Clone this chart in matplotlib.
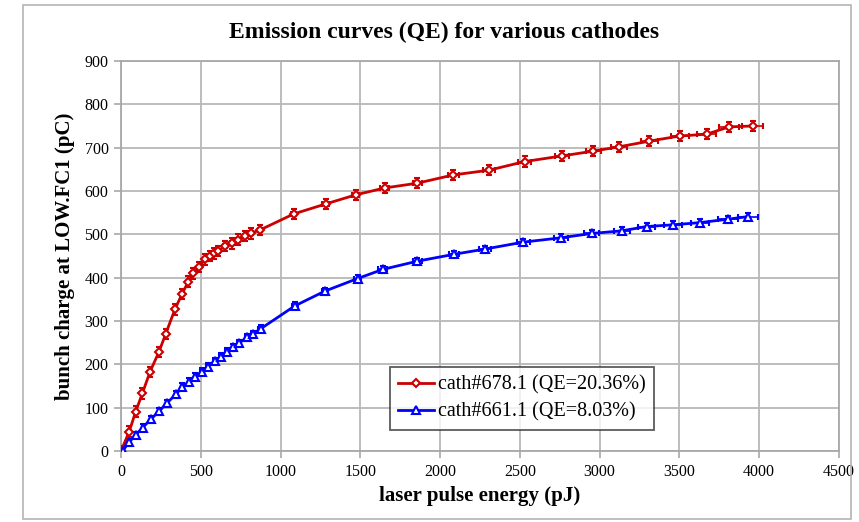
"""
Emission curves (QE) for two cathodes
"""
import numpy as np
import matplotlib.pyplot as plt
from matplotlib.patches import Rectangle
from matplotlib.lines import Line2D

plt.rcParams['font.family'] = ['Liberation Serif', 'DejaVu Serif']

# cath#678.1
v_x_678 = [0, 52, 92, 134, 182, 237, 280, 338, 382, 422, 453, 490, 526, 555, 585,
           610, 652, 694, 735, 777, 812, 871, 1082, 1282, 1470, 1652, 1857, 2082,
           2306, 2531, 2765, 2960, 3122, 3310, 3503, 3670, 3811, 3958]
v_y_678 = [0, 45, 91, 133, 183, 228, 270, 327, 362, 391, 410, 425, 442, 450, 456,
           462, 473, 479, 488, 496, 502, 510, 547, 570, 591, 607, 618, 637,
           648, 668, 681, 692, 702, 715, 727, 731, 748, 750]
# cath#661.1
v_x_661 = [10, 50, 92, 136, 186, 240, 286, 345, 384, 428, 464, 505, 543, 587, 625,
           662, 704, 741, 787, 825, 875, 1090, 1278, 1483, 1640, 1857, 2088, 2281,
           2521, 2757, 2949, 3137, 3294, 3461, 3628, 3805, 3931]
v_y_661 = [0, 20, 37, 54, 73, 92, 110, 131, 148, 160, 171, 183, 195, 207, 218,
           229, 239, 249, 262, 270, 282, 335, 369, 398, 419, 438, 454, 466,
           482, 492, 502, 508, 518, 522, 527, 535, 541]

labels = ['cath#678.1 (QE=20.36%)', 'cath#661.1 (QE=8.03%)']
x_rel_err = 0.016   # relative error on pulse energy
y_err_678 = 12
y_err_661 = 8

fig = plt.figure(figsize=(8.59, 5.22), dpi=100)
ax = fig.add_axes([121/859, 1-451/522, (839-121)/859, (451-61)/522])

# outer frame
fig.patches.append(Rectangle((23/859, 1-519/522), (851-23)/859, (519-5)/522,
                             transform=fig.transFigure, fill=False,
                             edgecolor='#b4b4b4', linewidth=1.2))

series = [
    (v_x_678, v_y_678, y_err_678, '#cc0000', 'D', 4.0),
    (v_x_661, v_y_661, y_err_661, '#0000ff', '^', 5.5),
]
handles = []
for v_x, v_y, y_err, color, marker, ms in series:
    v_x = np.array(v_x, dtype=float)
    v_y = np.array(v_y, dtype=float)
    style = dict(color=color, linewidth=2, marker=marker, markersize=ms,
                 markerfacecolor='white', markeredgecolor=color, markeredgewidth=1.5)
    ax.errorbar(v_x, v_y, xerr=x_rel_err*v_x, yerr=np.full(len(v_y), y_err),
                elinewidth=1.2, capsize=2.5, capthick=1.2, zorder=3, **style)
    handles.append(Line2D([], [], **style))

ax.set_xlim(0, 4500)
ax.set_ylim(0, 900)
ax.set_xticks(np.arange(0, 4501, 500))
ax.set_yticks(np.arange(0, 901, 100))
ax.grid(True, color='#b8b8b8', linewidth=1.3)
ax.set_axisbelow(True)
for s in ax.spines.values():
    s.set_color('#a8a8a8')
    s.set_linewidth(1.3)
ax.tick_params(direction='out', length=5, color='#a8a8a8', width=1.2,
               labelsize=11.5, pad=4)

fig.text(444/859, 1-32/522, 'Emission curves (QE) for various cathodes', fontsize=17,
         fontweight='bold', ha='center', va='center')
ax.set_xlabel('laser pulse energy (pJ)', fontsize=15, fontweight='bold', labelpad=5)
ax.set_ylabel('bunch charge at LOW.FC1 (pC)', fontsize=15, fontweight='bold', labelpad=7)

leg = ax.legend(handles, labels, loc='lower left',
                bbox_to_anchor=((390-121)/718, (451-430)/390),
                fontsize=14.5, frameon=True, fancybox=False, borderpad=0.4,
                handlelength=1.8, handletextpad=0.2, labelspacing=0.4,
                borderaxespad=0)
leg.get_frame().set_edgecolor('#333333')
leg.get_frame().set_linewidth(1.3)

fig.savefig('out.png', dpi=100)
